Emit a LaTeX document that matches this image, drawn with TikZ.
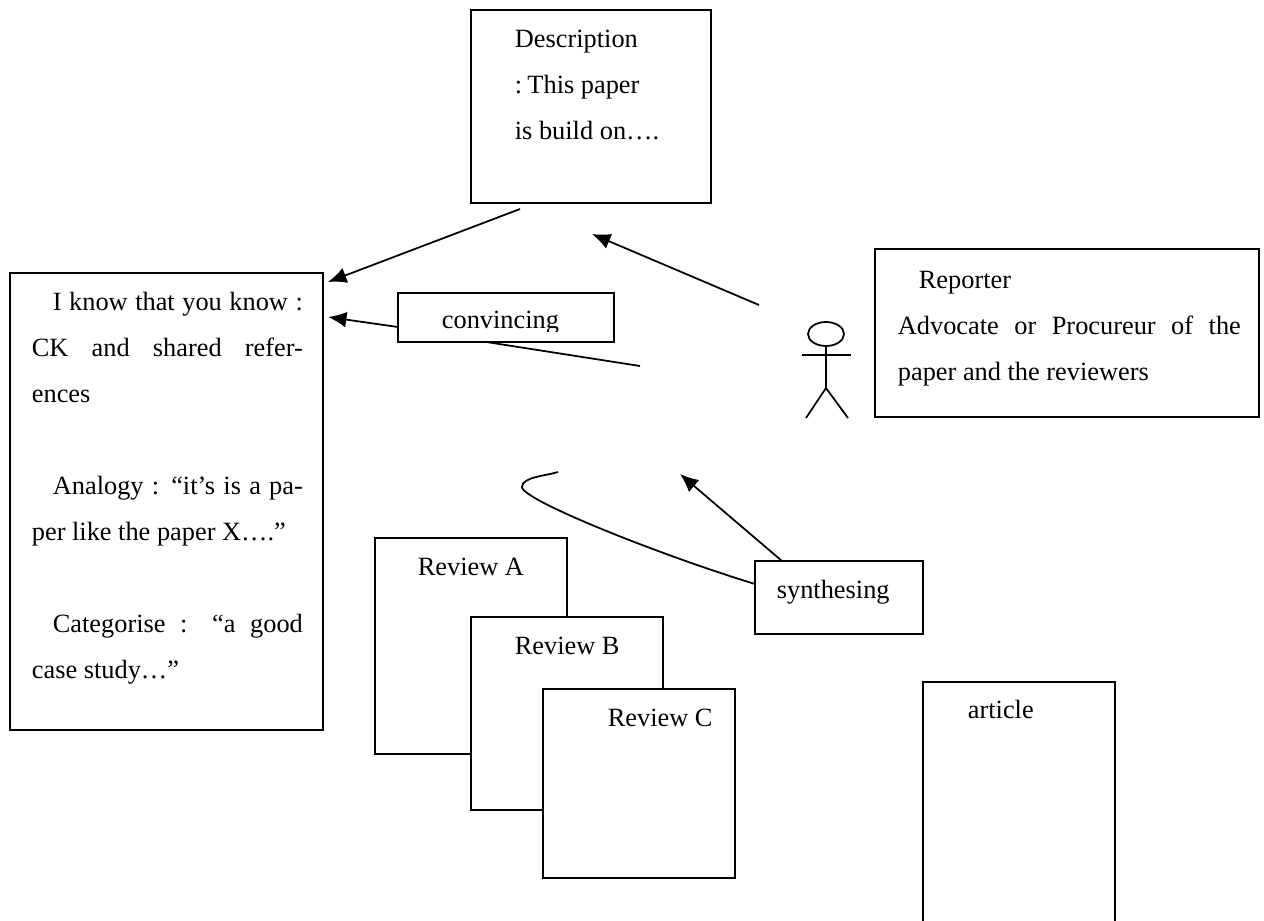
\documentclass[tikz,border=0pt]{standalone}
\usepackage{fontspec}
\setmainfont{Liberation Serif}
\usetikzlibrary{arrows.meta}

\tikzset{box/.style={draw,fill=white,line width=1pt,anchor=north west,inner sep=0pt,outer sep=0pt},
         txt/.style={anchor=base west,inner sep=0pt,font=\fontsize{15}{26.2}\selectfont},
         par/.style={txt,anchor=north west,text width=#1,align=justify}}

\begin{document}
\begin{tikzpicture}[x=0.02cm,y=-0.02cm,->,>={Latex[length=10.5pt,width=9pt]},line width=1pt]
\useasboundingbox (0,0) rectangle (1264,920);

\node[box,minimum width=240*0.02cm,minimum height=193*0.02cm] (desc) at (471,10) {};
\node[box,minimum width=313*0.02cm,minimum height=457*0.02cm] (know) at (10,273) {};
\node[box,minimum width=384*0.02cm,minimum height=168*0.02cm] (rep) at (875,249) {};
\node[box,minimum width=192*0.02cm,minimum height=216*0.02cm] (revA) at (375,538) {};
\node[box,minimum width=192*0.02cm,minimum height=193*0.02cm] (revB) at (471,617) {};
\node[box,minimum width=192*0.02cm,minimum height=189*0.02cm] (revC) at (543,689) {};
\node[box,minimum width=192*0.02cm,minimum height=250*0.02cm] (art) at (923,682) {};

\coordinate (c1) at (520,209);
\coordinate (c2) at (328,282);
\coordinate (c3) at (759,305);
\coordinate (c4) at (592,234);
\coordinate (c5) at (328,317);
\coordinate (c6) at (480,341);
\coordinate (c7) at (640,366);
\coordinate (c8) at (680,474);
\coordinate (c9) at (558,472);

\path (c1) edge (c2)
      (c3) edge (c4);
\draw[-] (c6) -- (c7);

\node[box,minimum width=216*0.02cm,minimum height=49*0.02cm] (conv) at (398,293) {};
\node[box,minimum width=168*0.02cm,minimum height=73*0.02cm] (syn) at (755,561) {};

\draw (conv.west |- 0,327) -- (c5);
\draw (syn.north west -| 782,0) -- (c8);
\draw[-] (c9) .. controls (545,476) and (522,477) .. (522,487)
              .. controls (522,500) and (660,555) .. (syn.north west |- 0,584);

% stick figure
\draw[-] (826,334) ellipse (18 and 12);
\coordinate (neck) at (826,346);
\coordinate (hip) at (826,388);
\draw[-] (neck) -- (hip);
\draw[-] (802,355) -- (851,355);
\draw[-] (806,418) -- (hip) -- (848,418);

\node[txt] (t1) at (514,47) {Description};
\node[txt] (t2) at (514,93) {:\hspace{3pt}This paper};
\node[txt] (t3) at (514,139) {is build on….};
\node[par=271*0.02cm] (t4) at (31,291) {\hspace*{21\dimexpr0.569pt\relax}I know that you know :\linebreak CK and shared refer-\linebreak ences\par\vspace{26.2pt}
\hspace*{21\dimexpr0.569pt\relax}Analogy : “it’s is a pa-\linebreak per like the paper X….”\par\vspace{26.2pt}
\hspace*{21\dimexpr0.569pt\relax}Categorise : “a good\linebreak case study…”};
\node[par=343*0.02cm] (t5) at (897,270) {\hspace*{21\dimexpr0.569pt\relax}Reporter\par
Advocate or Procureur of the\linebreak paper and the reviewers};
\begin{scope}
\clip (conv.north west) rectangle (614,331);
\node[txt] (t6) at (441,328) {convincing};
\end{scope}
\node[txt] (t7) at (776,598) {synthesing};
\node[txt] (t8) at (417,575) {Review A};
\node[txt] (t9) at (514,654) {Review B};
\node[txt] (t10) at (607,726) {Review C};
\node[txt] (t11) at (967,718) {article};
\end{tikzpicture}
\end{document}
